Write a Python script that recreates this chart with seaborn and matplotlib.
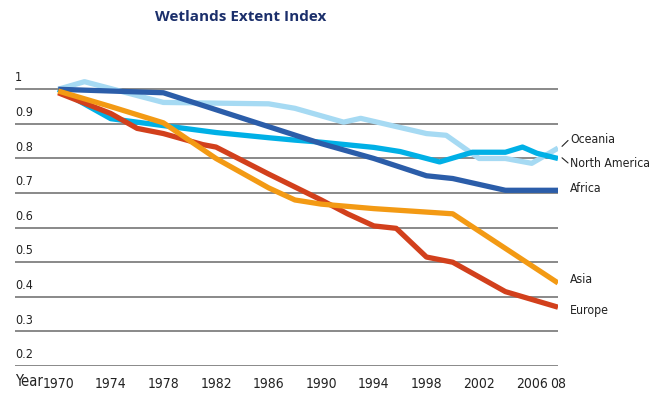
import matplotlib
matplotlib.use("Agg")
import matplotlib.pyplot as plt
import seaborn as sns
import pandas as pd
import matplotlib.transforms as mtransforms

# ---- data ----
oceania_years = [1970, 1972, 1978, 1986, 1988, 1991.7, 1993, 1998, 1999.5, 2002, 2004, 2006, 2008]
oceania_vals = [1.0, 1.022, 0.962, 0.958, 0.945, 0.905, 0.916, 0.872, 0.867, 0.80, 0.80, 0.786, 0.83]

namerica_years = [1970, 1974, 1978, 1982, 1986, 1988, 1990, 1994, 1996, 1999, 2001.5, 2004, 2005.3, 2006.4, 2008]
namerica_vals = [1.0, 0.915, 0.895, 0.875, 0.86, 0.853, 0.847, 0.832, 0.82, 0.79, 0.818, 0.818, 0.833, 0.815, 0.80]

africa_years = [1970, 1978, 1990, 1994, 1998, 2000, 2004, 2008]
africa_vals = [1.0, 0.99, 0.843, 0.80, 0.75, 0.742, 0.708, 0.708]

asia_years = [1970, 1974, 1978, 1982, 1986, 1988, 1990, 1994, 2000, 2008]
asia_vals = [0.995, 0.95, 0.903, 0.80, 0.715, 0.68, 0.668, 0.655, 0.64, 0.44]

europe_years = [1970, 1974, 1976, 1978, 1981, 1982, 1986, 1990, 1992, 1994, 1995.7, 1998, 2000, 2004, 2008]
europe_vals = [0.99, 0.93, 0.887, 0.872, 0.84, 0.833, 0.755, 0.68, 0.64, 0.605, 0.598, 0.515, 0.50, 0.415, 0.37]

series_names = ["Oceania", "North America", "Africa", "Europe", "Asia"]
colors = ["#a6daf3", "#00b0e6", "#2b5da9", "#d2401c", "#f39a14"]

yticks = [0.2, 0.3, 0.4, 0.5, 0.6, 0.7, 0.8, 0.9, 1.0]
ytick_labels = ["0.2", "0.3", "0.4", "0.5", "0.6", "0.7", "0.8", "0.9", "1"]
xticks = [1970, 1974, 1978, 1982, 1986, 1990, 1994, 1998, 2002, 2006, 2008]
xtick_labels = ["1970", "1974", "1978", "1982", "1986", "1990", "1994", "1998", "2002", "2006", "08"]

title = "Wetlands Extent Index"

# ---- build long-form table ----
frames = []
for name, yrs, vals in [("Oceania", oceania_years, oceania_vals),
                        ("North America", namerica_years, namerica_vals),
                        ("Africa", africa_years, africa_vals),
                        ("Europe", europe_years, europe_vals),
                        ("Asia", asia_years, asia_vals)]:
    frames.append(pd.DataFrame({"year": yrs, "value": vals, "region": name}))
df = pd.concat(frames, ignore_index=True)

sns.set_theme(style="white")
plt.rcParams["font.family"] = ["DejaVu Sans"]
plt.rcParams["font.stretch"] = "condensed"
TXT = dict(family=["DejaVu Sans"], stretch="condensed", color="#222222")

W, H = 656, 399
fig = plt.figure(figsize=(W / 100, H / 100), dpi=100)
left, right = 15 / W, 558 / W
bottom, top = 1 - 366 / H, 1 - 72 / H
ax = fig.add_axes([left, bottom, right - left, top - bottom])

x0 = 1970 - 43 / 13.1
ax.set_xlim(x0, 2008)
ax.set_ylim(0.2, 1.05)

for v in yticks:
    ax.axhline(v, color="#808080", lw=1.3, zorder=1)

sns.lineplot(data=df, x="year", y="value", hue="region", hue_order=series_names,
             palette=dict(zip(series_names, colors)), sort=False, estimator=None,
             lw=3.8, ax=ax, legend=False, zorder=3)
for ln in ax.get_lines():
    ln.set_solid_joinstyle("round")
    ln.set_solid_capstyle("butt")

for s in ax.spines.values():
    s.set_visible(False)

ax.set_yticks([])
ax.set_xticks(xticks)
ax.set_xticklabels(xtick_labels)
for t in ax.get_xticklabels():
    t.set_fontsize(10)
    t.set_fontstretch("condensed")
ax.tick_params(axis="x", direction="in", length=6, width=1, color="#333333", pad=8, labelcolor="#222222")
ax.set_xlabel("")
ax.set_ylabel("")

trans = mtransforms.blended_transform_factory(ax.transAxes, ax.transData)
for v, lab in zip(yticks, ytick_labels):
    ax.text(0.0, v + 0.014, lab, transform=trans, ha="left", va="bottom", fontsize=9, **TXT)

fig.text(15 / W, 1 - 381 / H, "Year", ha="left", va="center", fontsize=10.5, **TXT)

# right-side labels
lab_x = 2008 + 12 / 13.1
for txt, yv in [("Oceania", 0.855), ("North America", 0.785), ("Africa", 0.712),
                ("Asia", 0.45), ("Europe", 0.36)]:
    ax.text(lab_x, yv, txt, ha="left", va="center", fontsize=8.8, clip_on=False, **TXT)
ax.plot([2008 + 4 / 13.1, 2008 + 10 / 13.1], [0.835, 0.852], color="#222222", lw=0.8, clip_on=False)
ax.plot([2008 + 4 / 13.1, 2008 + 10 / 13.1], [0.802, 0.787], color="#222222", lw=0.8, clip_on=False)

fig.text(241 / W, 1 - 17 / H, title, ha="center", va="center", fontsize=11,
         fontweight="bold", color="#1b2f6b", family=["Open Sans", "DejaVu Sans"])

fig.savefig("out.png", dpi=100)
